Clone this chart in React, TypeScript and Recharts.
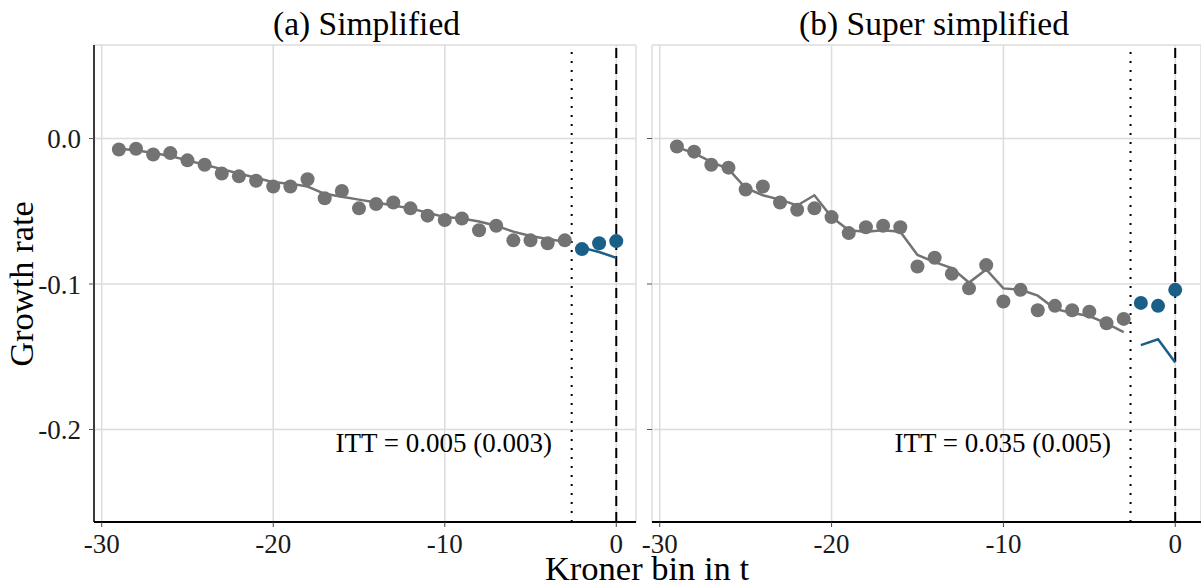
import { ComposedChart, Line, XAxis, YAxis, CartesianGrid, ReferenceLine } from 'recharts';

const GRAY_BINS = [-29, -28, -27, -26, -25, -24, -23, -22, -21, -20, -19, -18, -17, -16, -15, -14, -13, -12, -11, -10, -9, -8, -7, -6, -5, -4, -3];
const BLUE_BINS = [-2, -1, 0];

// (a) Simplified
const SIMP_PTS = [-0.0075, -0.007, -0.011, -0.01, -0.015, -0.018, -0.024, -0.026, -0.029, -0.033, -0.033, -0.028, -0.041, -0.036, -0.048, -0.045, -0.044, -0.048, -0.053, -0.056, -0.055, -0.063, -0.06, -0.07, -0.07, -0.072, -0.07];
const SIMP_FIT = [-0.007, -0.008, -0.01, -0.012, -0.015, -0.018, -0.021, -0.024, -0.027, -0.03, -0.031, -0.033, -0.038, -0.04, -0.042, -0.044, -0.046, -0.048, -0.051, -0.054, -0.055, -0.057, -0.06, -0.064, -0.067, -0.069, -0.071];
const SIMP_BLUE_PTS = [-0.076, -0.072, -0.0705];
const SIMP_BLUE_FIT = [-0.075, -0.078, -0.082];

// (b) Super simplified
const SUPER_PTS = [-0.0055, -0.009, -0.018, -0.02, -0.035, -0.033, -0.044, -0.049, -0.048, -0.054, -0.065, -0.061, -0.06, -0.061, -0.088, -0.082, -0.093, -0.103, -0.087, -0.112, -0.104, -0.118, -0.115, -0.118, -0.119, -0.127, -0.124];
const SUPER_FIT = [-0.006, -0.01, -0.016, -0.021, -0.034, -0.039, -0.042, -0.046, -0.039, -0.054, -0.063, -0.064, -0.063, -0.064, -0.08, -0.085, -0.089, -0.099, -0.09, -0.103, -0.104, -0.108, -0.117, -0.12, -0.122, -0.127, -0.133];
const SUPER_BLUE_PTS = [-0.113, -0.115, -0.104];
const SUPER_BLUE_FIT = [-0.142, -0.138, -0.154];

const X_TICKS = [-30, -20, -10, 0];
const Y_TICKS = [-0.2, -0.1, 0];
const CUTOFF = -2.6;

const GRAY = '#737373';
const BLUE = '#1a5f87';
const GRID = '#dcdcdc';
const FONT = '"Liberation Serif", serif';

const buildRows = (pts: number[], fit: number[], bluePts: number[], blueFit: number[]) => [
  ...GRAY_BINS.map((x, i) => ({ x, pt: pts[i], fit: fit[i], bluePt: null, blueFit: null })),
  ...BLUE_BINS.map((x, i) => ({ x, pt: null, fit: null, bluePt: bluePts[i], blueFit: blueFit[i] })),
];

const simpRows = buildRows(SIMP_PTS, SIMP_FIT, SIMP_BLUE_PTS, SIMP_BLUE_FIT);
const superRows = buildRows(SUPER_PTS, SUPER_FIT, SUPER_BLUE_PTS, SUPER_BLUE_FIT);

const tickStyle = { fill: '#1a1a1a', fontSize: 27, fontFamily: FONT };

function Panel({ rows, width, left, marginRight, xMax, showY }: any) {
  return (
    <div style={{ position: 'absolute', left, top: 0 }}>
      <ComposedChart width={width} height={587} data={rows} margin={{ top: 45, right: marginRight, bottom: 0, left: 0 }}>
        <CartesianGrid stroke={GRID} strokeWidth={1.5} />
        <XAxis
          type="number"
          dataKey="x"
          domain={[-30.45, xMax]}
          ticks={X_TICKS}
          allowDataOverflow
          height={65}
          tick={tickStyle}
          tickSize={5}
          tickMargin={7}
          tickLine={{ stroke: '#444' }}
          axisLine={{ stroke: '#000', strokeWidth: 2 }}
        />
        <YAxis
          type="number"
          domain={[-0.2636, 0.0643]}
          ticks={Y_TICKS}
          allowDataOverflow
          width={showY ? 94 : 12}
          tick={tickStyle}
          tickFormatter={(v: number) => (showY ? v.toFixed(1) : '')}
          tickSize={5}
          tickMargin={8}
          tickLine={{ stroke: '#555' }}
          axisLine={showY ? { stroke: '#000', strokeWidth: 1.5 } : { stroke: 'none' }}
        />
        <ReferenceLine x={CUTOFF} stroke="#000" strokeWidth={2} strokeDasharray="2 7" />
        <ReferenceLine x={0} stroke="#000" strokeWidth={2} strokeDasharray="10 6" />
        <Line dataKey="fit" stroke={GRAY} strokeWidth={2.5} dot={false} activeDot={false} isAnimationActive={false} />
        <Line dataKey="blueFit" stroke={BLUE} strokeWidth={2.5} dot={false} activeDot={false} isAnimationActive={false} />
        <Line dataKey="pt" stroke="none" dot={{ r: 7, fill: GRAY, stroke: 'none' }} activeDot={false} isAnimationActive={false} />
        <Line dataKey="bluePt" stroke="none" dot={{ r: 7, fill: BLUE, stroke: 'none' }} activeDot={false} isAnimationActive={false} />
      </ComposedChart>
    </div>
  );
}

export default function App() {
  return (
    <div style={{ position: 'absolute', left: 0, top: 0, width: 1201, height: 587, background: '#fff', overflow: 'hidden' }}>
      <Panel rows={simpRows} width={660} left={0} marginRight={24} xMax={1.15} showY />
      <Panel rows={superRows} width={561} left={640} marginRight={0} xMax={1.5} showY={false} />
      <svg width={1201} height={587} style={{ position: 'absolute', left: 0, top: 0, pointerEvents: 'none' }}>
        <g fontFamily={FONT} fill="#000">
          <text x={366.5} y={35} fontSize={33.5} textAnchor="middle">(a) Simplified</text>
          <text x={934} y={35} fontSize={33.5} textAnchor="middle">(b) Super simplified</text>
          <text x={647} y={580} fontSize={34.5} textAnchor="middle">Kroner bin in t</text>
          <text x={33} y={284} fontSize={34.5} textAnchor="middle" transform="rotate(-90, 33, 284)">Growth rate</text>
          <text x={552} y={452} fontSize={27} textAnchor="end">ITT = 0.005 (0.003)</text>
          <text x={1111} y={452} fontSize={27} textAnchor="end">ITT = 0.035 (0.005)</text>
        </g>
      </svg>
    </div>
  );
}
